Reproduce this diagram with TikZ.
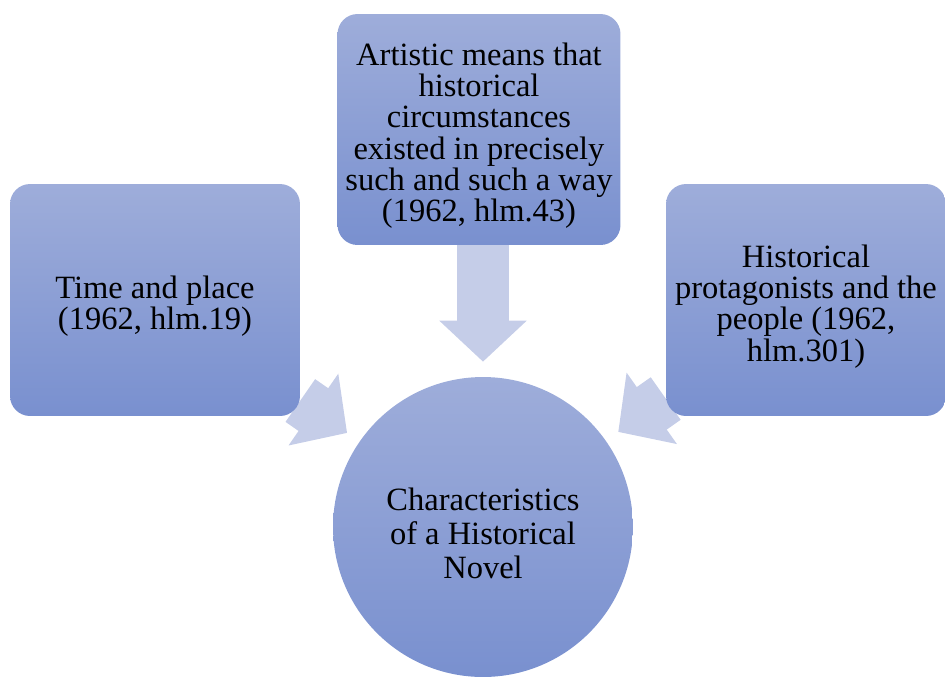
\documentclass[tikz,border=0pt]{standalone}
\usepackage{fontspec}
\setmainfont{Liberation Serif}
\usetikzlibrary{arrows.meta,backgrounds}

\definecolor{boxtop}{RGB}{158,173,218}
\definecolor{boxbottom}{RGB}{121,144,207}
\definecolor{arrowfill}{RGB}{197,205,232}

% pushes the text block down a little, as the original does
\newcommand{\lift}{\rule{0pt}{20pt}}

\begin{document}
\begin{tikzpicture}[x=0.02cm,y=-0.02cm,
  box/.style={rounded corners=0.4cm,top color=boxtop,bottom color=boxbottom,
    align=center,inner sep=0pt,font=\fontsize{18.5}{17.8}\selectfont},
  hub/.style={circle,top color=boxtop,bottom color=boxbottom,minimum size=6cm,
    align=center,inner sep=0pt,font=\fontsize{18.5}{19.5}\selectfont},
  feed/.style={draw=arrowfill,line width=1.04cm,shorten >=0.3cm,
    -{Triangle[length=0.82cm,width=1.7cm]}}]

  \useasboundingbox (0,0) rectangle (945,677);

  % centre
  \node[hub] (hub) at (483,527) {\lift Characteristics\\of a Historical\\Novel};

  % three boxes
  \node[box,minimum width=5.8cm,minimum height=4.64cm] (time) at (155,300)
    {\lift Time and place\\(1962, hlm.19)};
  \node[box,minimum width=5.66cm,minimum height=4.62cm] (means) at (479,129.5)
    {\lift Artistic means that\\historical\\circumstances\\existed in precisely\\such and such a way\\(1962, hlm.43)};
  \node[box,minimum width=5.6cm,minimum height=4.64cm] (people) at (806,300)
    {\lift Historical\\protagonists and the\\people (1962,\\hlm.301)};

  % arrows
  \begin{scope}[on background layer]
    \draw[feed] (means.south -| hub) -- (hub);
    \draw[feed] (time) -- (hub);
    \draw[feed] (people) -- (hub);
  \end{scope}

\end{tikzpicture}
\end{document}
